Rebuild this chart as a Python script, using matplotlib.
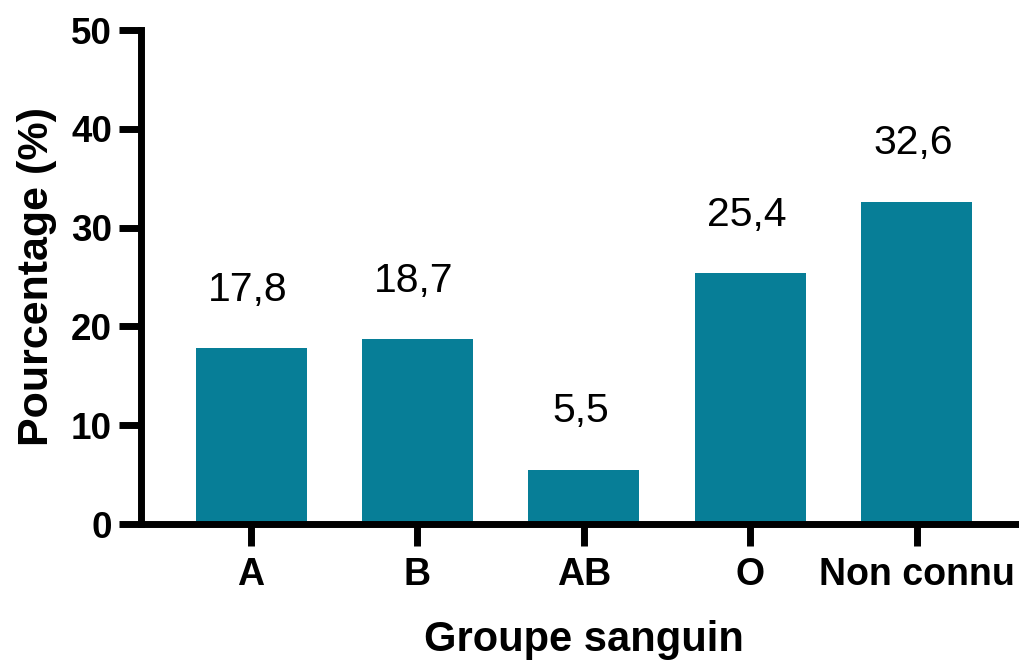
"""
Blood group distribution - bar chart with value labels
"""

import matplotlib.pyplot as plt
import numpy as np

plt.rcParams["font.family"] = ["Liberation Sans", "DejaVu Sans"]

# Data
groups = ["A", "B", "AB", "O", "Non connu"]
percentages = [17.8, 18.7, 5.5, 25.4, 32.6]
value_labels = ["17,8", "18,7", "5,5", "25,4", "32,6"]
y_ticks = [0, 10, 20, 30, 40, 50]

BAR_COLOR = "#077E97"

fig = plt.figure(figsize=(10.2, 6.6), dpi=100)
ax = fig.add_axes([140.5 / 1020, 1 - 524 / 660, 1 - 140.5 / 1020, (524 - 30) / 660])

x = np.arange(len(groups))
ax.bar(x, percentages, width=0.667, color=BAR_COLOR, zorder=2)

# Value labels above bars
for xi, val, lab in zip(x, percentages, value_labels):
    ax.text(xi - 0.02, val + 4.8, lab, ha="center", va="baseline", fontsize=29.5, color="black")

ax.set_xlim(-0.664, 4.62)
ax.set_ylim(0, 50)
ax.set_xticks(x)
ax.set_xticklabels(groups, fontsize=27, fontweight="bold")
ax.set_yticks(y_ticks)
ax.set_yticklabels([str(t) for t in y_ticks], fontsize=26.5, fontweight="bold")

for side in ["top", "right"]:
    ax.spines[side].set_visible(False)
for side in ["left", "bottom"]:
    ax.spines[side].set_linewidth(5)
    ax.spines[side].set_zorder(3)

ax.tick_params(axis="both", length=15.5, width=5, color="black")
ax.tick_params(axis="x", pad=8)
ax.tick_params(axis="y", pad=5)

ax.set_ylabel("Pourcentage (%)", fontsize=31, fontweight="bold", labelpad=10)
ax.set_xlabel("Groupe sanguin", fontsize=30, fontweight="bold", labelpad=14)
ax.xaxis.set_label_coords((584 - 140.5) / (1020 - 140.5), -0.195)

fig.savefig("out.png", dpi=100)
